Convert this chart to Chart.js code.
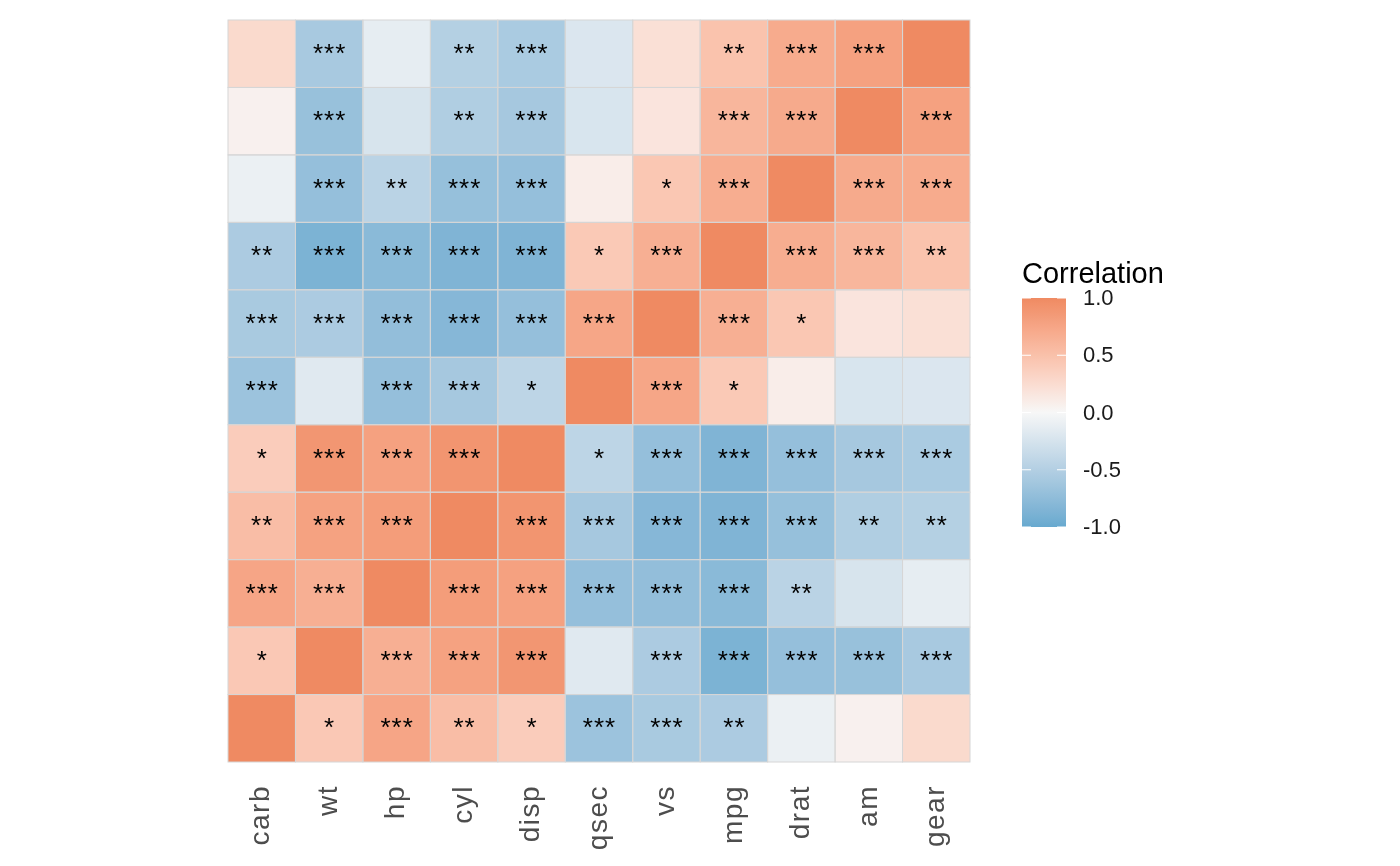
<!DOCTYPE html>
<html>
<head>
<meta charset="utf-8">
<script src="https://cdn.jsdelivr.net/npm/chart.js@4"></script>
<style>
  body { margin: 0; background: #ffffff; }
  #wrap { width: 1400px; height: 866px; }
</style>
</head>
<body>
<div id="wrap"><canvas id="heat" width="1400" height="866"></canvas></div>
<script>
// variables, same order on both axes (rows listed bottom to top)
const variables = ['carb', 'wt', 'hp', 'cyl', 'disp', 'qsec', 'vs', 'mpg', 'drat', 'am', 'gear'];

// correlation values, one array per row (columns in the order of variables)
const carbRow = [1, 0.43, 0.75, 0.53, 0.39, -0.66, -0.57, -0.55, -0.09, 0.06, 0.27];
const wtRow   = [0.43, 1, 0.66, 0.78, 0.89, -0.17, -0.55, -0.87, -0.71, -0.69, -0.58];
const hpRow   = [0.75, 0.66, 1, 0.83, 0.79, -0.71, -0.72, -0.78, -0.45, -0.24, -0.13];
const cylRow  = [0.53, 0.78, 0.83, 1, 0.90, -0.59, -0.81, -0.85, -0.70, -0.52, -0.49];
const dispRow = [0.39, 0.89, 0.79, 0.90, 1, -0.43, -0.71, -0.85, -0.71, -0.59, -0.56];
const qsecRow = [-0.66, -0.17, -0.71, -0.59, -0.43, 1, 0.74, 0.42, 0.09, -0.23, -0.21];
const vsRow   = [-0.57, -0.55, -0.72, -0.81, -0.71, 0.74, 1, 0.66, 0.44, 0.17, 0.21];
const mpgRow  = [-0.55, -0.87, -0.78, -0.85, -0.85, 0.42, 0.66, 1, 0.68, 0.60, 0.48];
const dratRow = [-0.09, -0.71, -0.45, -0.70, -0.71, 0.09, 0.44, 0.68, 1, 0.71, 0.70];
const amRow   = [0.06, -0.69, -0.24, -0.52, -0.59, -0.23, 0.17, 0.60, 0.71, 1, 0.79];
const gearRow = [0.27, -0.58, -0.13, -0.49, -0.56, -0.21, 0.21, 0.48, 0.70, 0.79, 1];

// significance stars, one array per row
const carbStars = ['', '*', '***', '**', '*', '***', '***', '**', '', '', ''];
const wtStars   = ['*', '', '***', '***', '***', '', '***', '***', '***', '***', '***'];
const hpStars   = ['***', '***', '', '***', '***', '***', '***', '***', '**', '', ''];
const cylStars  = ['**', '***', '***', '', '***', '***', '***', '***', '***', '**', '**'];
const dispStars = ['*', '***', '***', '***', '', '*', '***', '***', '***', '***', '***'];
const qsecStars = ['***', '', '***', '***', '*', '', '***', '*', '', '', ''];
const vsStars   = ['***', '***', '***', '***', '***', '***', '', '***', '*', '', ''];
const mpgStars  = ['**', '***', '***', '***', '***', '*', '***', '', '***', '***', '**'];
const dratStars = ['', '***', '**', '***', '***', '', '*', '***', '', '***', '***'];
const amStars   = ['', '***', '', '**', '***', '', '', '***', '***', '', '***'];
const gearStars = ['', '***', '', '**', '***', '', '', '**', '***', '***', ''];

// colour bar ticks
const legendTicks = [-1, -0.5, 0, 0.5, 1];

const corRows = [carbRow, wtRow, hpRow, cylRow, dispRow, qsecRow, vsRow, mpgRow, dratRow, amRow, gearRow];
const starRows = [carbStars, wtStars, hpStars, cylStars, dispStars, qsecStars, vsStars, mpgStars, dratStars, amStars, gearStars];

// gradient low / mid / high
const colLow = [103, 169, 207];
const colMid = [247, 247, 247];
const colHigh = [239, 138, 98];

// --- Lab interpolation like ggplot's gradient2 ---
function lin(c) { c /= 255; return c <= 0.04045 ? c / 12.92 : Math.pow((c + 0.055) / 1.055, 2.4); }
function unlin(c) { c = c <= 0.0031308 ? 12.92 * c : 1.055 * Math.pow(c, 1 / 2.4) - 0.055; return Math.max(0, Math.min(255, Math.round(c * 255))); }
function toLab(rgb) {
    const r = lin(rgb[0]), g = lin(rgb[1]), b = lin(rgb[2]);
    let x = (0.4124 * r + 0.3576 * g + 0.1805 * b) / 0.95047;
    let y = (0.2126 * r + 0.7152 * g + 0.0722 * b);
    let z = (0.0193 * r + 0.1192 * g + 0.9505 * b) / 1.08883;
    const f = t => t > 0.008856 ? Math.cbrt(t) : 7.787 * t + 16 / 116;
    x = f(x); y = f(y); z = f(z);
    return [116 * y - 16, 500 * (x - y), 200 * (y - z)];
}
function fromLab(lab) {
    let y = (lab[0] + 16) / 116, x = lab[1] / 500 + y, z = y - lab[2] / 200;
    const g = t => t * t * t > 0.008856 ? t * t * t : (t - 16 / 116) / 7.787;
    x = g(x) * 0.95047; y = g(y); z = g(z) * 1.08883;
    const r = 3.2406 * x - 1.5372 * y - 0.4986 * z;
    const gg = -0.9689 * x + 1.8758 * y + 0.0415 * z;
    const b = 0.0557 * x - 0.2040 * y + 1.0570 * z;
    return [unlin(r), unlin(gg), unlin(b)];
}
const labLow = toLab(colLow), labMid = toLab(colMid), labHigh = toLab(colHigh);
function corColor(v) {
    const t = Math.min(1, Math.abs(v));
    const end = v < 0 ? labLow : labHigh;
    const lab = [0, 1, 2].map(k => labMid[k] + (end[k] - labMid[k]) * t);
    const c = fromLab(lab);
    return 'rgb(' + c[0] + ',' + c[1] + ',' + c[2] + ')';
}

// each row is a stacked bar dataset of height 1
const datasets = variables.map(function (name, i) {
    return {
        label: name,
        data: variables.map(() => 1),
        backgroundColor: corRows[i].map(corColor),
        borderWidth: 0,
        stars: starRows[i]
    };
});

// wider letter spacing for the axis labels only
const spacingPlugin = {
    id: 'spacing',
    beforeDraw(chart) { chart.ctx.letterSpacing = '1.5px'; },
    beforeDatasetsDraw(chart) { chart.ctx.letterSpacing = '0px'; }
};

// draw tile outlines and stars
const tilePlugin = {
    id: 'tiles',
    afterDatasetsDraw(chart) {
        const ctx = chart.ctx;
        ctx.save();
        ctx.strokeStyle = '#d6d6d6';
        ctx.lineWidth = 1;
        ctx.fillStyle = '#000000';
        ctx.font = '26px "Liberation Sans", Arial, sans-serif';
        ctx.letterSpacing = '1px';
        ctx.textAlign = 'center';
        ctx.textBaseline = 'middle';
        chart.data.datasets.forEach(function (ds, i) {
            const meta = chart.getDatasetMeta(i);
            meta.data.forEach(function (bar, j) {
                const w = bar.width;
                const top = Math.min(bar.y, bar.base);
                const h = Math.abs(bar.base - bar.y);
                ctx.strokeRect(bar.x - w / 2, top, w, h);
                const s = ds.stars[j];
                if (s) ctx.fillText(s, bar.x + 0.5, top + h / 2 + 1);
            });
        });
        ctx.restore();
    }
};

// colour bar legend
const colorbarPlugin = {
    id: 'colorbar',
    afterDraw(chart) {
        const ctx = chart.ctx;
        const area = chart.chartArea;
        const x0 = area.right + 52, w = 44;
        const y0 = 298, y1 = 527;
        ctx.save();
        ctx.letterSpacing = '0px';
        const grad = ctx.createLinearGradient(0, y1, 0, y0);
        for (let k = 0; k <= 40; k++) {
            const v = -1 + k / 20;
            grad.addColorStop(k / 40, corColor(v));
        }
        ctx.fillStyle = grad;
        ctx.fillRect(x0, y0, w, y1 - y0);
        ctx.fillStyle = '#000000';
        ctx.font = '29px "Liberation Sans", Arial, sans-serif';
        ctx.textAlign = 'left';
        ctx.textBaseline = 'alphabetic';
        ctx.fillText('Correlation', x0, 283);
        ctx.font = '22px "Liberation Sans", Arial, sans-serif';
        ctx.textBaseline = 'middle';
        legendTicks.forEach(function (t) {
            const y = y1 - (t + 1) / 2 * (y1 - y0);
            ctx.strokeStyle = '#ffffff';
            ctx.lineWidth = 1;
            ctx.beginPath();
            ctx.moveTo(x0, y); ctx.lineTo(x0 + 9, y);
            ctx.moveTo(x0 + w - 9, y); ctx.lineTo(x0 + w, y);
            ctx.stroke();
            ctx.fillStyle = '#1a1a1a';
            ctx.fillText(t.toFixed(1), x0 + 61, y + 1);
        });
        ctx.restore();
    }
};

const ctx = document.getElementById('heat').getContext('2d');
const chart = new Chart(ctx, {
    type: 'bar',
    data: { labels: variables, datasets: datasets },
    options: {
        responsive: false,
        animation: false,
        devicePixelRatio: 1,
        layout: { padding: { left: 228, right: 430, top: 20, bottom: 0 } },
        datasets: { bar: { barPercentage: 1, categoryPercentage: 1 } },
        plugins: { legend: { display: false }, tooltip: { enabled: false } },
        scales: {
            x: {
                stacked: true,
                grid: { display: false },
                border: { display: false },
                afterFit: function (axis) { axis.height = 104; },
                ticks: {
                    autoSkip: false,
                    minRotation: 90,
                    maxRotation: 90,
                    padding: 15,
                    color: '#4d4d4d',
                    font: { family: '"Liberation Sans", Arial, sans-serif', size: 28 }
                }
            },
            y: { stacked: true, display: false, min: 0, max: 11 }
        }
    },
    plugins: [spacingPlugin, tilePlugin, colorbarPlugin]
});
</script>
</body>
</html>
